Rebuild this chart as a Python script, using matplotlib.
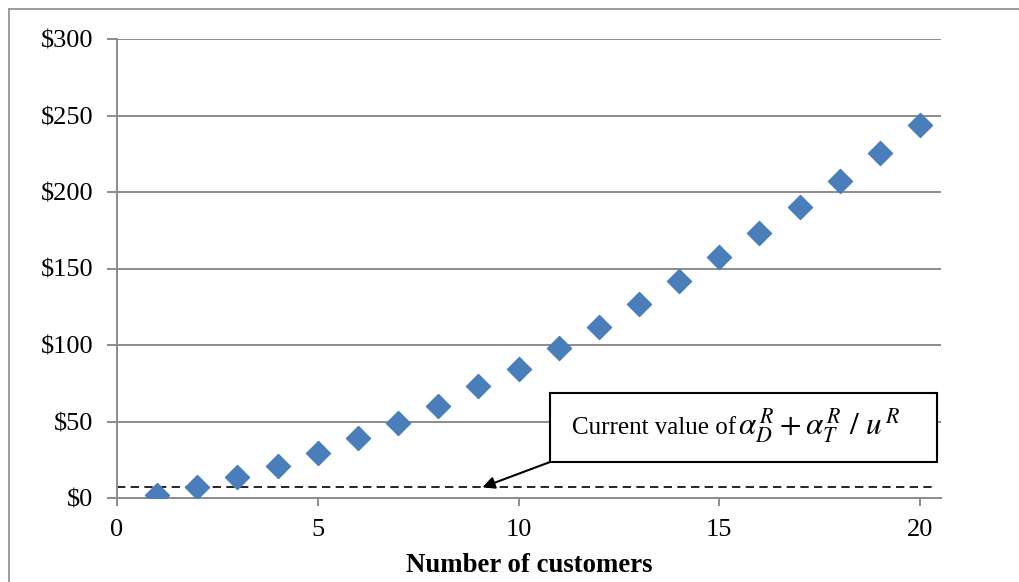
import matplotlib
matplotlib.use("Agg")
import matplotlib.pyplot as plt
from matplotlib.patches import Rectangle
from matplotlib.lines import Line2D
from matplotlib.ticker import FuncFormatter

plt.rcParams['font.family'] = ['Liberation Serif', 'DejaVu Serif']
plt.rcParams['mathtext.fontset'] = 'stix'

# data
customers = [1, 2, 3, 4, 5, 6, 7, 8, 9, 10, 11, 12, 13, 14, 15, 16, 17, 18, 19, 20]
cost = [2, 7, 14, 21, 29.5, 39, 49, 60, 73, 84.5, 98, 112, 127, 142, 157.5, 173.5, 190.5, 207.5, 225.5, 243.5]
current_value = 7
y_ticks = [0, 50, 100, 150, 200, 250, 300]
x_ticks = [0, 5, 10, 15, 20]

grey = '#8c8c8c'

fig = plt.figure(figsize=(10.19, 5.82), dpi=100)
ax = fig.add_axes([117 / 1019, 1 - 498 / 582, (941 - 117) / 1019, (498 - 39) / 582])

# outer chart frame
fig.add_artist(Line2D([9 / 1019, 9 / 1019], [0, 1 - 9 / 582], color=grey, lw=1.2))
fig.add_artist(Line2D([9 / 1019, 1], [1 - 9 / 582, 1 - 9 / 582], color=grey, lw=1.2))

ax.scatter(customers, cost, marker='D', s=150, color='#4a7ebb', edgecolors='#4a7ebb', zorder=3)
ax.axhline(current_value, color='black', lw=1.2, ls=(0, (5, 3.2)), zorder=2, xmin=0, xmax=0.99)

ax.set_xlim(0, 20.52)
ax.set_ylim(0, 300)
ax.set_xticks(x_ticks)
ax.set_yticks(y_ticks)
ax.yaxis.set_major_formatter(FuncFormatter(lambda v, p: "\\$%d" % v))

ax.grid(axis='y', color=grey, lw=1.4)
ax.set_axisbelow(True)
for s in ['top', 'right']:
    ax.spines[s].set_visible(False)
for s in ['left', 'bottom']:
    ax.spines[s].set_color(grey)
    ax.spines[s].set_linewidth(1.4)
ax.tick_params(axis='x', colors=grey, length=6, width=1.4, labelcolor='black', labelsize=19, pad=9)
ax.tick_params(axis='y', colors=grey, length=7, width=1.4, labelcolor='black', labelsize=19, pad=10)

ax.set_xlabel('Number of customers', fontsize=19.3, fontweight='bold', labelpad=9)

# annotation box
box_x0, box_x1 = 10.78, 20.42
box_y0, box_y1 = 23.5, 68.6
ax.add_patch(Rectangle((box_x0, box_y0), box_x1 - box_x0, box_y1 - box_y0,
                       facecolor='white', edgecolor='black', lw=1.5, zorder=4))
mid_y = (box_y0 + box_y1) / 2
ax.text(15.42, mid_y, "Current value of", fontsize=18, ha='right', va='center', zorder=5)
ax.text(15.47, mid_y + 1.5, r"$\alpha_D^{\,R} + \alpha_T^{\,R}\ /\ u^{\,R}$",
        fontsize=22.5, ha='left', va='center', zorder=5)
ax.annotate('', xy=(9.1, current_value), xytext=(box_x0, box_y0),
            arrowprops=dict(arrowstyle='-|>', color='black', lw=1.5, mutation_scale=18,
                            shrinkA=0, shrinkB=0), zorder=5)

fig.savefig('out.png', dpi=100)
